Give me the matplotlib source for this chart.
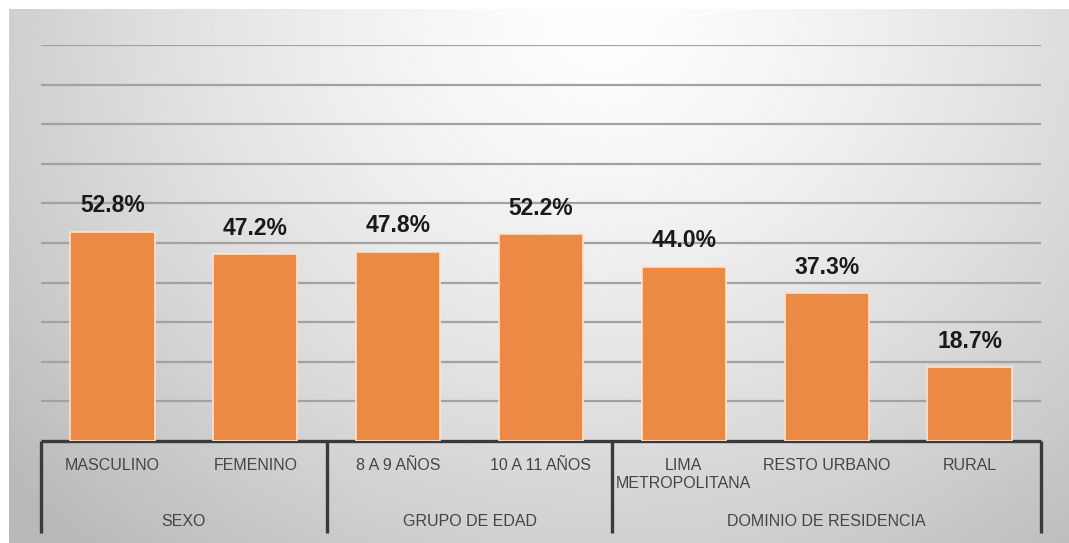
import numpy as np
import matplotlib
matplotlib.use('Agg')
import matplotlib.pyplot as plt
from matplotlib.transforms import blended_transform_factory

# datos
categorias = ['MASCULINO', 'FEMENINO', '8 A 9 AÑOS', '10 A 11 AÑOS',
              'LIMA\nMETROPOLITANA', 'RESTO URBANO', 'RURAL']
valores = [52.8, 47.2, 47.8, 52.2, 44.0, 37.3, 18.7]
grupos = ['SEXO', 'GRUPO DE EDAD', 'DOMINIO DE RESIDENCIA']
tam_grupos = [2, 2, 3]

naranja = '#EC8A45'
gris_texto = '#454545'
fuente_eje = ['Liberation Sans', 'DejaVu Sans']

W, H = 1069, 543
fig = plt.figure(figsize=(W / 100, H / 100), dpi=100)
fig.patch.set_facecolor('white')

# fondo con degradado radial
bg = fig.add_axes([9 / W, 0, (W - 9) / W, (H - 9) / H], zorder=-10)
gx, gy = np.meshgrid(np.linspace(0, 1, 400), np.linspace(0, 1, 200))
r = np.sqrt(((gx - 0.56) / 0.62) ** 2 + ((gy - 0.02) / 1.1) ** 2)
r = np.clip(r, 0, 1.2)
tono = 0.995 - 0.21 * r ** 1.4
bg.imshow(tono, cmap='gray', vmin=0, vmax=1, aspect='auto',
          extent=[0, 1, 1, 0], interpolation='bilinear')
bg.axis('off')

# área del gráfico
x0, x1 = 41, 1041
y_base, y_top = 441, 45
ax = fig.add_axes([x0 / W, (H - y_base) / H, (x1 - x0) / W, (y_base - y_top) / H])
ax.set_facecolor('none')

x = np.arange(len(categorias))
ax.bar(x, valores, width=0.59, color=naranja, edgecolor='#fde3cc',
       linewidth=1.2, zorder=3)

for xi, v in zip(x, valores):
    ax.annotate(f'{v:.1f}%', (xi, v), xytext=(0, 14), textcoords='offset points',
                ha='center', va='baseline', fontsize=16.5, fontweight='bold',
                family=['Liberation Sans', 'DejaVu Sans'], color='#1a1a1a')

ax.set_xlim(-0.5, len(categorias) - 0.5)
ax.set_ylim(0, 100)
ax.set_yticks(np.arange(10, 101, 10))
ax.yaxis.grid(True, color='#a2a2a2', linewidth=1.6, zorder=0)
ax.set_axisbelow(True)
ax.tick_params(left=False, labelleft=False, bottom=False, labelbottom=False)
for s in ['top', 'right', 'left']:
    ax.spines[s].set_visible(False)
ax.spines['bottom'].set_color('#3a3a3a')
ax.spines['bottom'].set_linewidth(2.4)
ax.spines['bottom'].set_capstyle('butt')

# etiquetas de categoría y de grupo
tr = blended_transform_factory(ax.transData, ax.transAxes)
alto_ax = y_base - y_top
for xi, c in zip(x, categorias):
    ax.text(xi, -17 / alto_ax, c, transform=tr, ha='center', va='top',
            fontsize=11.5, family=fuente_eje, color=gris_texto, linespacing=1.25)

limites = np.concatenate([[0], np.cumsum(tam_grupos)]) - 0.5
for i, g in enumerate(grupos):
    centro = (limites[i] + limites[i + 1]) / 2
    ax.text(centro, -80 / alto_ax, g, transform=tr, ha='center', va='center',
            fontsize=11.5, family=fuente_eje, color=gris_texto)
for b in limites:
    ax.plot([b, b], [0, -92 / alto_ax], transform=tr, color='#3a3a3a',
            linewidth=2.4, clip_on=False, solid_capstyle='butt')

fig.savefig('out.png', dpi=100)
